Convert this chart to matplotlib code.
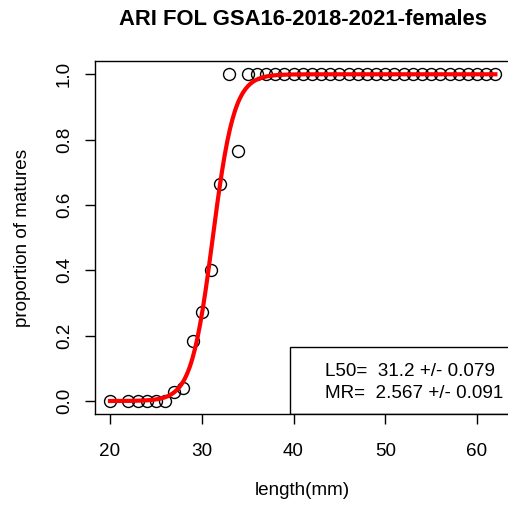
import numpy as np
import matplotlib
matplotlib.use("Agg")
import matplotlib.pyplot as plt
from matplotlib.patches import Rectangle

plt.rcParams["font.family"] = ["Liberation Sans", "DejaVu Sans"]

# observed proportion of matures by length class
lengths = [20, 22, 23, 24, 25, 26, 27, 28, 29, 30, 31, 32, 33, 34] + list(range(35, 63))
props = [0.0, 0.0, 0.0, 0.0, 0.0, 0.0, 0.028, 0.04, 0.183, 0.272, 0.40, 0.665, 1.0, 0.765] + [1.0] * 28

# fitted ogive parameters
L50, L50_se = 31.2, 0.079
MR, MR_se = 2.567, 0.091

def ogive(x, l50, mr):
    b = 2 * np.log(3) / mr
    return 1.0 / (1.0 + np.exp(-b * (x - l50)))

fig = plt.figure(figsize=(5.08, 5.05), dpi=100)
ax = fig.add_axes([0.1862, 0.180, 0.8193, 0.6988])

ax.plot(lengths, props, "o", mfc="none", mec="black", ms=8.6, mew=1.0, zorder=3)
x_line = np.linspace(20, 62, 300)
ax.plot(x_line, ogive(x_line, L50, MR), "-", color="red", lw=3, zorder=4)

xmin, xmax = 20 - 0.04 * 42, 62 + 0.04 * 42
ax.set_xlim(xmin, xmax)
ax.set_ylim(-0.04, 1.04)

ax.set_xticks([20, 30, 40, 50, 60])
ax.set_yticks([0.0, 0.2, 0.4, 0.6, 0.8, 1.0])
ax.set_yticklabels(["0.0", "0.2", "0.4", "0.6", "0.8", "1.0"], rotation=90, va="center")
ax.tick_params(direction="out", length=7.5, width=1, labelsize=13.6, colors="black")
ax.tick_params(axis="x", pad=13.5)
ax.tick_params(axis="y", pad=8)

for s in ax.spines.values():
    s.set_linewidth(1.0)

ax.set_xlabel("length(mm)", fontsize=13.6, labelpad=16)
ax.set_ylabel("proportion of matures", fontsize=13.6, labelpad=18)
ax.set_title("ARI FOL GSA16-2018-2021-females", fontsize=15.8, fontweight="bold", pad=26)

# legend box with fit results
ax.add_patch(Rectangle((39.6, -0.04), xmax - 39.6, 0.205, fill=False, ec="black", lw=1.0, zorder=5))
ax.text(43.4, 0.090, "L50=  %.1f +/- %.3f" % (L50, L50_se), fontsize=13.6, va="center", ha="left", zorder=6)
ax.text(43.4, 0.024, "MR=  %.3f +/- %.3f" % (MR, MR_se), fontsize=13.6, va="center", ha="left", zorder=6)

fig.savefig("out.png", dpi=100)
